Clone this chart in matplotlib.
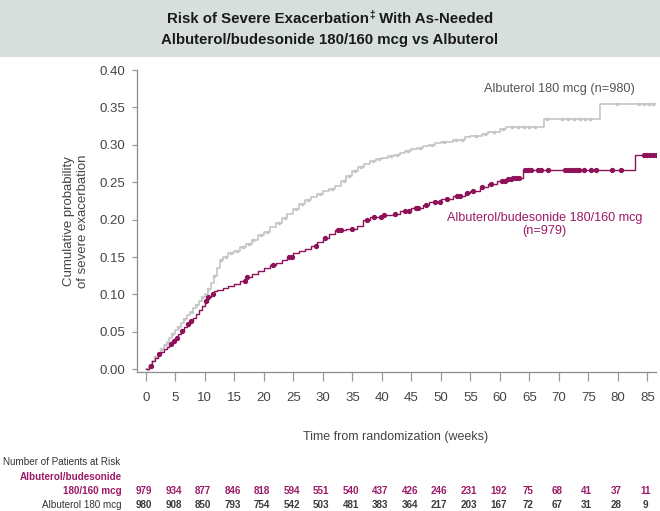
import numpy as np
import matplotlib
matplotlib.use("Agg")
import matplotlib.pyplot as plt
import matplotlib.transforms as mtransforms

plt.rcParams['font.family'] = ['Liberation Sans', 'DejaVu Sans']

# Kaplan-Meier style cumulative incidence
alb_t = [0, 0.5, 1, 1.5, 2, 2.5, 3, 3.5, 4, 4.5, 5, 5.5, 6, 6.5, 7, 7.5, 8, 8.5, 9, 9.5,
         10, 10.5, 11, 11.5, 12, 12.5, 13, 14, 15, 16, 17, 18, 19,
         20, 21, 22, 23, 24, 25, 26, 27, 28, 29, 30, 31, 32, 33, 34, 35, 36, 37, 38, 39,
         40, 41, 42, 43, 44, 45, 46, 47, 48, 49, 50, 52, 54, 55, 57, 58, 60, 61, 67.4, 77, 86.5]
alb_p = [0, 0.006, 0.011, 0.017, 0.022, 0.027, 0.032, 0.037, 0.042, 0.047, 0.052, 0.057,
         0.062, 0.067, 0.072, 0.077, 0.082, 0.086, 0.091, 0.096, 0.101, 0.107,
         0.115, 0.125, 0.135, 0.146, 0.150, 0.155, 0.158, 0.163, 0.168, 0.173, 0.179, 0.184,
         0.190, 0.196, 0.202, 0.208, 0.214, 0.221, 0.226, 0.230, 0.234, 0.238, 0.241, 0.245,
         0.252, 0.259, 0.265, 0.270, 0.274, 0.278, 0.281, 0.283, 0.285, 0.287, 0.289, 0.292,
         0.294, 0.296, 0.298, 0.300, 0.302, 0.304, 0.307, 0.310, 0.312, 0.314, 0.317, 0.321,
         0.324, 0.334, 0.355, 0.355]

bud_t = [0, 0.5, 1, 1.5, 2, 2.5, 3, 3.5, 4, 4.5, 5, 5.5, 6, 6.5, 7, 7.5, 8, 8.5, 9, 9.5,
         10, 10.5, 11, 11.5, 12, 13, 14, 15, 16, 17, 18, 19, 20,
         21, 22, 23, 24, 25, 26, 27, 28, 29, 30, 31, 32, 34, 35.7, 36.8, 38, 40, 42, 43, 45,
         47, 48, 50, 52, 54, 55, 56.6, 58, 59.5, 61, 62, 63.9, 82.9, 86.5]
bud_p = [0, 0.005, 0.011, 0.015, 0.020, 0.023, 0.027, 0.030, 0.034, 0.038, 0.042, 0.047,
         0.051, 0.056, 0.060, 0.064, 0.069, 0.074, 0.079, 0.085, 0.091, 0.096,
         0.100, 0.104, 0.106, 0.109, 0.111, 0.114, 0.118, 0.123, 0.127, 0.131, 0.135, 0.139,
         0.142, 0.146, 0.150, 0.155, 0.158, 0.161, 0.165, 0.170, 0.175, 0.181, 0.186, 0.188,
         0.191, 0.200, 0.204, 0.206, 0.208, 0.211, 0.215, 0.219, 0.224, 0.228, 0.231, 0.236,
         0.238, 0.243, 0.248, 0.251, 0.254, 0.256, 0.267, 0.287, 0.287]

# censoring times
alb_cens = [0.4, 1.5, 2.5, 3.2, 3.8, 4.5, 5.5, 6.5, 7.8, 8.5, 9.5, 10.5, 11.5, 12.8, 13.5,
            14.5, 15.5, 16.5, 17.5, 18.2, 19.5, 20.5, 22.5, 23.5, 25.5, 26.5, 27.5, 29.5,
            31.5, 33.5, 34.5, 35.5, 36.5, 38.5, 39.5, 41.5, 42.5, 44.5, 46.5, 48.5, 50.5,
            52.5, 53.5, 56, 57.5, 59, 60.5, 62, 63, 64, 65, 66, 68, 70.5, 71.5, 72.5, 73.5,
            74.5, 75.3, 79.8, 83.6, 84.4, 85.2, 86]
bud_cens = [0.8, 2.2, 4.2, 4.8, 5.3, 6.2, 7.2, 7.6, 10.2, 10.6, 11.3, 16.8, 17.2, 21.5,
            24.3, 24.8, 28.8, 30.3, 32.5, 33, 35, 37.5, 38.6, 39.8, 40.3, 42.3, 44, 44.6,
            45.8, 46.2, 47.5, 49, 49.8, 51, 52.8, 53.3, 54.5, 55.5, 57, 58.5, 60.3, 60.8,
            61.3, 61.8, 62.3, 62.8, 63.3, 64.2, 64.7, 65.2, 66.5, 67, 68.2, 71, 71.5, 72,
            72.5, 73, 73.4, 74.3, 75.5, 76.3, 79, 80.5, 84.4, 84.9, 85.4, 85.9, 86.4]

weeks = list(range(0, 90, 5))
risk_bud = [979, 934, 877, 846, 818, 594, 551, 540, 437, 426, 246, 231, 192, 75, 68, 41, 37, 11]
risk_alb = [980, 908, 850, 793, 754, 542, 503, 481, 383, 364, 217, 203, 167, 72, 67, 31, 28, 9]

grey = '#c0c0c0'
grey_mk = '#c6c6c6'
mag = '#8e1259'
mag_txt = '#9c1a67'
txt = '#444444'
W, H = 660, 511


def step_at(t, p, c):
    idx = np.searchsorted(t, c, side='right') - 1
    return np.asarray(p)[idx]


fig = plt.figure(figsize=(W / 100, H / 100), dpi=100)

# title band
fig.patches.append(plt.Rectangle((0, 1 - 57 / H), 1, 57 / H, transform=fig.transFigure,
                                 facecolor='#d7dfdc', edgecolor='none', zorder=0))

ax = fig.add_axes([137 / W, 1 - 372.3 / H, (655.7 - 137) / W, (372.3 - 70) / H])
ax.step(alb_t, alb_p, where='post', color=grey, lw=1.1, zorder=2)
ax.step(bud_t, bud_p, where='post', color=mag, lw=1.0, zorder=3)
ax.plot(alb_cens, step_at(alb_t, alb_p, alb_cens), 's', ms=2.0, color=grey_mk,
        mec=grey_mk, zorder=2)
ax.plot(bud_cens, step_at(bud_t, bud_p, bud_cens), 'o', ms=2.8, color=mag, mec=mag, zorder=3)

ax.set_xlim(-1.5, 86.4)
ax.set_ylim(-0.004, 0.40)
ax.set_xticks(weeks)
ax.set_yticks(np.arange(0, 0.41, 0.05))
ax.set_yticklabels(['%.2f' % v for v in np.arange(0, 0.41, 0.05)])
for s in ['top', 'right']:
    ax.spines[s].set_visible(False)
for s in ['left', 'bottom']:
    ax.spines[s].set_color('#8c8c8c')
    ax.spines[s].set_linewidth(0.9)
ax.tick_params(axis='x', length=6.5, width=0.9, color='#9a9a9a', pad=7.5, labelsize=9.5,
               labelcolor=txt)
ax.tick_params(axis='y', length=3.6, width=0.9, color='#9a9a9a', pad=5, labelsize=9.5,
               labelcolor=txt)

ax.text(70.1, 0.375, 'Albuterol 180 mcg (n=980)', ha='center', va='center',
        fontsize=9.2, color='#555555')
ax.text(67.6, 0.1935, 'Albuterol/budesonide 180/160 mcg\n(n=979)', ha='center',
        va='center', fontsize=9.1, color=mag_txt, linespacing=1.15)

fig.text(76 / W, 1 - 221 / H, 'Cumulative probability\nof severe exacerbation',
         rotation=90, ha='center', va='center', fontsize=9.5, color=txt,
         multialignment='center', linespacing=1.25)
fig.text(396 / W, 1 - 437 / H, 'Time from randomization (weeks)', ha='center',
         va='center', fontsize=9, color=txt)

# title, first line has a raised double dagger
r = fig.canvas.get_renderer()
y1 = 1 - 19 / H
parts = [('Risk of Severe Exacerbation', 10.8, 0), ('\u2021', 7, 4), (' With As-Needed', 10.8, 0)]
objs = []
for s, fs, dy in parts:
    t = fig.text(0, y1 + dy / H, s, fontsize=fs, fontweight='bold', color='#1a1a1a',
                 ha='left', va='center')
    objs.append(t)
widths = [o.get_window_extent(r).width for o in objs]
x = W / 2 - sum(widths) / 2
for o, w in zip(objs, widths):
    o.set_x(x / W)
    x += w
fig.text(0.5, 1 - 40 / H, 'Albuterol/budesonide 180/160 mcg vs Albuterol', fontsize=10.8,
         fontweight='bold', color='#1a1a1a', ha='center', va='center')

# number at risk table
fig.text(3 / W, 1 - 461.7 / H, 'Number of Patients at Risk', fontsize=7.1, color='#333333',
         va='center', ha='left')
fig.text(122 / W, 1 - 476.7 / H, 'Albuterol/budesonide', fontsize=7.1, color=mag_txt,
         fontweight='bold', va='center', ha='right')
fig.text(122 / W, 1 - 490.7 / H, '180/160 mcg', fontsize=7.1, color=mag_txt,
         fontweight='bold', va='center', ha='right')
fig.text(122 / W, 1 - 505 / H, 'Albuterol 180 mcg', fontsize=7.1, color='#333333',
         va='center', ha='right')
trans = mtransforms.blended_transform_factory(ax.transData, fig.transFigure)
for wk, nb, na in zip(weeks, risk_bud, risk_alb):
    ax.text(wk - 0.3, 1 - 490.7 / H, str(nb), transform=trans, fontsize=7.1, color=mag_txt,
            fontweight='bold', ha='center', va='center', clip_on=False)
    ax.text(wk - 0.3, 1 - 505 / H, str(na), transform=trans, fontsize=7.1, color='#3a3a3a',
            fontweight='bold', ha='center', va='center', clip_on=False)

fig.savefig('out.png', dpi=100)
